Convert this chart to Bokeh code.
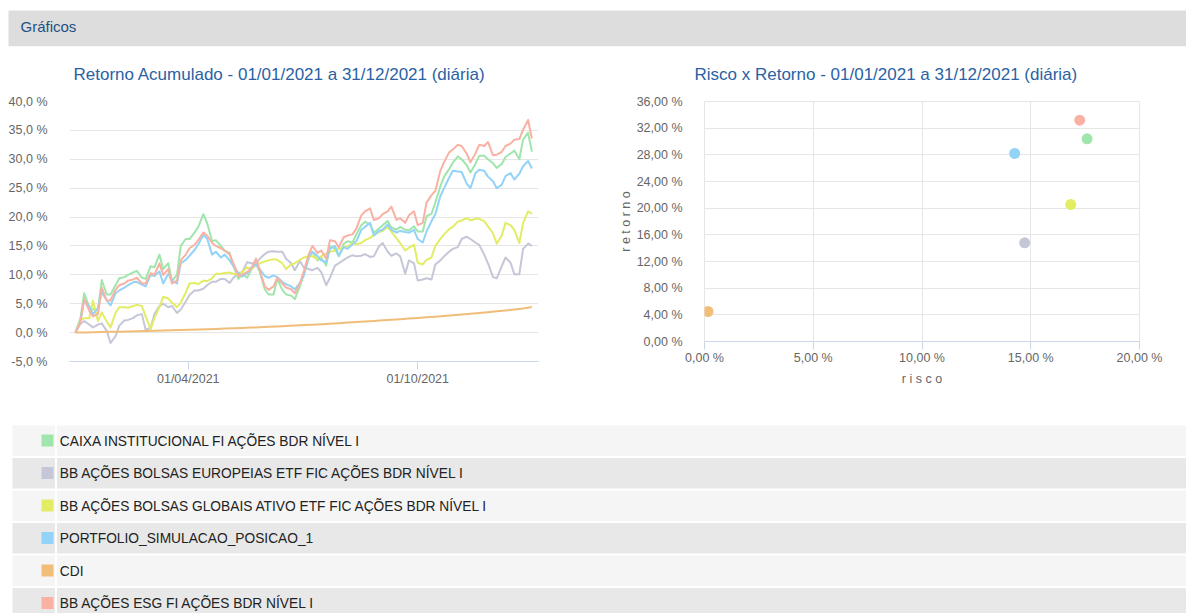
import pandas as pd
from bokeh.plotting import figure
from bokeh.layouts import column, row
from bokeh.models import Range1d, FixedTicker, CustomJSTickFormatter, ColumnDataSource
from bokeh.core.properties import value
from bokeh.embed import file_html
from bokeh.resources import INLINE

FONT = "Liberation Sans"

# ---------------- data ----------------
names = [
    "CAIXA INSTITUCIONAL FI AÇÕES BDR NÍVEL I",
    "BB AÇÕES BOLSAS EUROPEIAS ETF FIC AÇÕES BDR NÍVEL I",
    "BB AÇÕES BOLSAS GLOBAIS ATIVO ETF FIC AÇÕES BDR NÍVEL I",
    "PORTFOLIO_SIMULACAO_POSICAO_1",
    "CDI",
    "BB AÇÕES ESG FI AÇÕES BDR NÍVEL I",
]
colors = ["#a0e6ac", "#c5c7d8", "#e2ec64", "#93d3f8", "#f1be7a", "#f9b1a3"]

# sample dates (Fridays and Tuesdays of 2021)
fridays = [
    "2021-01-01", "2021-01-08", "2021-01-15", "2021-01-22", "2021-01-29",
    "2021-02-05", "2021-02-12", "2021-02-19", "2021-02-26",
    "2021-03-05", "2021-03-12", "2021-03-19", "2021-03-26",
    "2021-04-02", "2021-04-09", "2021-04-16", "2021-04-23", "2021-04-30",
    "2021-05-07", "2021-05-14", "2021-05-21", "2021-05-28",
    "2021-06-04", "2021-06-11", "2021-06-18", "2021-06-25",
    "2021-07-02", "2021-07-09", "2021-07-16", "2021-07-23", "2021-07-30",
    "2021-08-06", "2021-08-13", "2021-08-20", "2021-08-27",
    "2021-09-03", "2021-09-10", "2021-09-17", "2021-09-24",
    "2021-10-01", "2021-10-08", "2021-10-15", "2021-10-22", "2021-10-29",
    "2021-11-05", "2021-11-12", "2021-11-19", "2021-11-26",
    "2021-12-03", "2021-12-10", "2021-12-17", "2021-12-24", "2021-12-31",
]
tuesdays = [
    "2021-01-05", "2021-01-12", "2021-01-19", "2021-01-26",
    "2021-02-02", "2021-02-09", "2021-02-16", "2021-02-23",
    "2021-03-02", "2021-03-09", "2021-03-16", "2021-03-23", "2021-03-30",
    "2021-04-06", "2021-04-13", "2021-04-20", "2021-04-27",
    "2021-05-04", "2021-05-11", "2021-05-18", "2021-05-25",
    "2021-06-01", "2021-06-08", "2021-06-15", "2021-06-22", "2021-06-29",
    "2021-07-06", "2021-07-13", "2021-07-20", "2021-07-27",
    "2021-08-03", "2021-08-10", "2021-08-17", "2021-08-24", "2021-08-31",
    "2021-09-07", "2021-09-14", "2021-09-21", "2021-09-28",
    "2021-10-05", "2021-10-12", "2021-10-19", "2021-10-26",
    "2021-11-02", "2021-11-09", "2021-11-16", "2021-11-23", "2021-11-30",
    "2021-12-07", "2021-12-14", "2021-12-21", "2021-12-28",
]

caixa_fri = [0, 6.8, 4.0, 9.1, 6.6, 9.4, 10.0, 10.7, 9.3, 11.3,
             11.0, 9.0, 15.0, 16.2, 18.3, 19.0, 16.0, 14.2, 11.5, 10.2,
             10.8, 10.5, 6.6, 9.3, 6.6, 5.8, 10.0, 14.0, 13.0, 15.0,
             13.2, 15.8, 17.0, 19.2, 17.3, 18.6, 18.2, 18.3, 17.7, 17.5,
             20.1, 22.5, 27.0, 29.4, 30.0, 27.7, 30.6, 30.0, 28.5, 30.4,
             31.5, 33.4, 31.3]
caixa_tue = [2.5, 4.5, 4.0, 6.6, 8.2, 9.6, 10.4, 9.5, 11.5, 13.5,
             12.0, 10.0, 16.2, 17.3, 20.5, 15.8, 15.0, 13.8, 9.3, 9.5,
             12.0, 7.5, 6.6, 7.4, 6.4, 8.0, 12.8, 12.5, 11.6, 14.5,
             15.4, 15.6, 18.6, 18.7, 18.0, 19.3, 17.8, 17.8, 18.4, 17.5,
             20.6, 25.3, 28.3, 30.5, 29.0, 29.2, 30.6, 29.3, 29.2, 31.0,
             30.0, 34.6]

europeias_fri = [0, 2.0, 0.9, 1.6, -1.8, 1.2, 2.2, 3.0, 0.5, 3.2,
                 5.0, 4.6, 4.0, 6.5, 7.3, 8.2, 8.8, 9.3, 9.5, 10.5,
                 12.0, 12.8, 14.0, 14.0, 12.8, 10.8, 11.3, 10.8, 10.5, 9.5,
                 12.0, 13.0, 13.2, 13.6, 13.2, 15.5, 13.3, 13.2, 12.5, 9.0,
                 9.4, 11.8, 13.2, 14.5, 16.2, 16.2, 15.2, 12.0, 9.4, 13.0,
                 10.1, 14.5, 15.0]
europeias_tue = [1.5, 1.4, 1.4, 0.3, -0.6, 2.1, 2.5, 3.2, 0.8, 4.6,
                 4.4, 3.4, 5.4, 7.3, 7.6, 8.8, 9.3, 8.6, 10.3, 12.2,
                 12.0, 13.6, 14.1, 14.0, 12.0, 12.4, 11.0, 11.2, 8.2, 11.6,
                 12.6, 13.4, 13.3, 13.1, 14.9, 14.0, 13.7, 10.2, 12.0, 9.2,
                 9.2, 12.5, 14.0, 14.8, 16.6, 15.6, 13.5, 9.6, 11.5, 12.1,
                 10.1, 15.4]

globais_fri = [0, 2.5, 5.5, 3.5, 0.9, 4.4, 4.3, 4.8, 2.8, 2.5,
               6.2, 5.2, 5.2, 8.5, 8.4, 8.9, 10.2, 10.3, 10.2, 10.5,
               11.0, 12.0, 12.5, 12.6, 11.0, 12.0, 13.0, 13.2, 13.2, 14.0,
               14.5, 14.9, 15.3, 16.0, 16.9, 17.6, 17.5, 15.5, 14.7, 12.1,
               12.6, 15.0, 17.0, 18.3, 19.4, 19.4, 19.7, 18.4, 15.4, 19.0,
               17.8, 19.0, 20.6]
globais_tue = [2.2, 2.5, 2.0, 1.9, 3.4, 4.4, 4.6, 4.6, 0.6, 4.4,
               5.9, 4.4, 6.9, 8.6, 9.0, 9.4, 10.2, 10.4, 10.0, 11.3,
               11.6, 12.3, 12.7, 12.0, 11.8, 12.6, 13.2, 12.7, 13.7, 14.2,
               14.8, 15.5, 15.5, 16.4, 17.4, 18.3, 16.3, 14.2, 15.2, 11.8,
               13.0, 16.2, 17.9, 19.2, 19.8, 19.7, 19.3, 17.2, 16.8, 18.6,
               15.5, 21.0]

portfolio_fri = [0, 5.6, 3.2, 7.0, 4.7, 7.3, 8.2, 8.8, 8.0, 9.8,
                 8.5, 9.0, 12.0, 13.3, 15.3, 16.3, 14.0, 13.5, 11.5, 9.7,
                 11.2, 11.0, 9.5, 9.6, 8.4, 7.5, 9.8, 14.0, 12.5, 14.5,
                 13.3, 14.5, 15.8, 18.3, 16.8, 17.8, 17.8, 17.6, 17.3, 16.2,
                 17.5, 20.5, 25.0, 28.0, 27.8, 25.0, 28.2, 27.0, 25.0, 27.1,
                 26.5, 28.8, 28.4]
portfolio_tue = [2.0, 4.5, 4.2, 5.6, 6.8, 7.8, 8.7, 8.3, 10.0, 10.6,
                 10.2, 8.5, 12.6, 14.3, 16.9, 13.5, 13.0, 12.5, 10.3, 10.3,
                 11.8, 9.8, 9.9, 8.8, 8.0, 8.6, 13.2, 13.3, 12.2, 15.0,
                 14.8, 15.3, 17.8, 19.0, 17.6, 18.7, 17.3, 17.4, 17.8, 15.6,
                 19.3, 23.6, 26.8, 27.9, 25.8, 27.6, 28.0, 26.2, 25.6, 27.6,
                 27.5, 29.7]

esg_fri = [0, 5.8, 2.8, 7.8, 5.6, 8.2, 9.0, 9.5, 8.5, 10.0,
           10.0, 8.5, 12.5, 14.6, 16.0, 16.8, 15.0, 14.2, 12.0, 10.0,
           11.0, 10.8, 7.4, 9.5, 7.8, 6.8, 10.5, 15.0, 14.2, 16.0,
           14.8, 16.8, 18.0, 21.0, 19.5, 20.5, 21.8, 19.8, 20.3, 18.6,
           22.5, 24.5, 29.5, 31.7, 32.3, 29.5, 32.5, 33.0, 30.8, 32.3,
           33.4, 35.1, 33.6]
esg_tue = [1.8, 3.8, 3.2, 5.5, 7.4, 8.5, 9.2, 8.5, 10.3, 12.0,
           11.0, 9.0, 13.5, 15.2, 17.3, 15.5, 14.6, 13.5, 9.8, 10.5,
           12.8, 8.0, 8.0, 8.5, 7.5, 8.5, 13.5, 13.8, 12.8, 15.8,
           16.5, 17.0, 20.3, 21.5, 19.8, 21.0, 19.5, 19.0, 21.0, 19.0,
           23.8, 28.0, 31.2, 32.5, 31.0, 31.0, 32.3, 30.7, 31.3, 32.7,
           33.5, 36.8]

# CDI read on Fridays only (smooth curve)
cdi_fri = [0, 0.03, 0.07, 0.10, 0.14, 0.17, 0.20, 0.23, 0.27, 0.31,
           0.35, 0.40, 0.45, 0.49, 0.54, 0.59, 0.64, 0.69, 0.75, 0.81,
           0.87, 0.93, 1.00, 1.07, 1.14, 1.22, 1.30, 1.38, 1.46, 1.55,
           1.64, 1.73, 1.83, 1.93, 2.03, 2.13, 2.23, 2.33, 2.43, 2.54,
           2.65, 2.76, 2.87, 2.99, 3.12, 3.25, 3.39, 3.53, 3.68, 3.84,
           4.00, 4.17, 4.45]

series = [
    (caixa_fri, caixa_tue),
    (europeias_fri, europeias_tue),
    (globais_fri, globais_tue),
    (portfolio_fri, portfolio_tue),
    (cdi_fri, None),
    (esg_fri, esg_tue),
]

# risk x return (%, same order as names)
risco = [17.59, 14.72, 16.84, 14.26, 0.16, 17.25]
retorno = [30.4, 14.8, 20.55, 28.2, 4.5, 33.2]

x_tick_dates = ["2021-04-01", "2021-10-01"]
ret_ticks = [-5, 0, 5, 10, 15, 20, 25, 30, 35, 40]
risk_x_ticks = [0, 5, 10, 15, 20]
risk_y_ticks = [0, 4, 8, 12, 16, 20, 24, 28, 32, 36]

header_text = "Gráficos"
title_left = "Retorno Acumulado - 01/01/2021 a 31/12/2021 (diária)"
title_right = "Risco x Retorno - 01/01/2021 a 31/12/2021 (diária)"

# ---------------- styling helpers ----------------
W = 1186
TICK_COLOR = "#666666"
AXIS_BLUE = "#ccd6eb"
GRID = "#e6e6e6"
TITLE_BLUE = "#2a62a4"


def blank(width, height):
    f = figure(width=width, height=height, x_range=Range1d(0, width), y_range=Range1d(height, 0),
               x_axis_location=None, y_axis_location=None, output_backend="svg",
               toolbar_location=None, min_border=0)
    f.grid.visible = False
    f.outline_line_color = None
    return f


# ---------------- header ----------------
hdr = blank(W, 90)
hdr.quad(left=[8], right=[W], top=[10], bottom=[45.7], fill_color="#dddddd", line_color=None)
hdr.text(x=[20], y=[26.3], text=[header_text], text_font=value(FONT), text_font_size="15px",
         text_color="#1f5185", text_baseline="middle", text_align="left")
hdr.text(x=[73, 694], y=[73.8, 73.8], text=[title_left, title_right], text_font=value(FONT),
         text_font_size="17px", text_color=TITLE_BLUE, text_baseline="middle", text_align="left")

# ---------------- left chart: cumulative return ----------------
p1 = figure(frame_width=469, frame_height=260, x_axis_type="datetime",
            x_range=Range1d(pd.Timestamp("2020-12-27 07:00"), pd.Timestamp("2022-01-05 07:00")),
            y_range=Range1d(-5, 40), output_backend="svg", toolbar_location=None,
            min_border_left=69, min_border_right=60, min_border_top=11, min_border_bottom=47)
p1.outline_line_color = None
for (fri_vals, tue_vals), col in zip(series, colors):
    df = pd.DataFrame({"d": pd.to_datetime(fridays), "v": fri_vals})
    if tue_vals is not None:
        df = pd.concat([df, pd.DataFrame({"d": pd.to_datetime(tuesdays), "v": tue_vals})])
    df = df.sort_values("d")
    p1.line(x=df["d"], y=df["v"], line_color=col, line_width=2, line_join="round")

yt = FixedTicker(ticks=ret_ticks)
p1.yaxis.ticker = yt
p1.ygrid.ticker = yt
p1.yaxis.formatter = CustomJSTickFormatter(code="return tick.toFixed(1).replace('.', ',') + ' %';")
p1.yaxis.axis_line_color = None
p1.yaxis.major_tick_line_color = None
p1.yaxis.minor_tick_line_color = None
p1.yaxis.major_label_standoff = 16
p1.ygrid.grid_line_color = GRID
p1.xgrid.grid_line_color = None

xt = FixedTicker(ticks=[pd.Timestamp(d).value // 10**6 for d in x_tick_dates])
p1.xaxis.ticker = xt
p1.xaxis.formatter = CustomJSTickFormatter(code="""
const d = new Date(tick);
const dd = String(d.getUTCDate()).padStart(2, '0');
const mm = String(d.getUTCMonth() + 1).padStart(2, '0');
return dd + '/' + mm + '/' + d.getUTCFullYear();
""")
p1.xaxis.axis_line_color = AXIS_BLUE
p1.xaxis.major_tick_line_color = AXIS_BLUE
p1.xaxis.minor_tick_line_color = None
p1.xaxis.major_tick_out = 8
p1.xaxis.major_tick_in = 0
p1.xaxis.major_label_standoff = 2

# ---------------- right chart: risk x return ----------------
p2 = figure(frame_width=435, frame_height=240, x_range=Range1d(0, 20), y_range=Range1d(0, 36),
            output_backend="svg", toolbar_location=None,
            min_border_left=106, min_border_right=47, min_border_top=11, min_border_bottom=47)
p2.outline_line_color = GRID
src = ColumnDataSource(dict(x=risco, y=retorno, c=colors, n=names))
p2.scatter(x="x", y="y", source=src, size=11, fill_color="c", line_color=None, marker="circle")

rx = FixedTicker(ticks=risk_x_ticks)
ry = FixedTicker(ticks=risk_y_ticks)
p2.xaxis.ticker = rx
p2.xgrid.ticker = rx
p2.yaxis.ticker = ry
p2.ygrid.ticker = ry
pct2 = CustomJSTickFormatter(code="return tick.toFixed(2).replace('.', ',') + ' %';")
p2.xaxis.formatter = pct2
p2.yaxis.formatter = pct2
p2.xgrid.grid_line_color = GRID
p2.ygrid.grid_line_color = GRID
p2.yaxis.axis_line_color = None
p2.yaxis.major_tick_line_color = None
p2.yaxis.minor_tick_line_color = None
p2.yaxis.major_label_standoff = 16
p2.xaxis.axis_line_color = AXIS_BLUE
p2.xaxis.major_tick_line_color = AXIS_BLUE
p2.xaxis.minor_tick_line_color = None
p2.xaxis.major_tick_out = 8
p2.xaxis.major_tick_in = 0
p2.xaxis.major_label_standoff = 1
p2.xaxis.axis_label = "r i s c o"
p2.yaxis.axis_label = "r e t o r n o"
p2.xaxis.axis_label_standoff = 4
p2.yaxis.axis_label_standoff = 1

for ax in list(p1.axis) + list(p2.axis):
    ax.major_label_text_font = FONT
    ax.major_label_text_font_size = "12.5px"
    ax.major_label_text_color = TICK_COLOR
    ax.axis_label_text_font = FONT
    ax.axis_label_text_font_size = "12.5px"
    ax.axis_label_text_font_style = "normal"
    ax.axis_label_text_color = TICK_COLOR

# ---------------- legend table ----------------
LEG_H = 613 - 90 - 318
leg = blank(W, LEG_H)
n = len(names)
tops = [17 + 32.5 * i for i in range(n)]
bots = [t + 30.5 for t in tops]
mids = [t + 15 for t in tops]
fills = ["#f5f5f5" if i % 2 == 0 else "#e8e8e8" for i in range(n)]
leg.quad(left=[12] * n, right=[54.5] * n, top=tops, bottom=bots, fill_color=fills, line_color=None)
leg.quad(left=[56.5] * n, right=[W] * n, top=tops, bottom=bots, fill_color=fills, line_color=None)
leg.quad(left=[41] * n, right=[53] * n, top=[m - 6 for m in mids], bottom=[m + 6 for m in mids],
         fill_color=colors, line_color=None)
leg.text(x=[59.3] * n, y=[m + 0.5 for m in mids], text=names, text_font=value(FONT),
         text_font_size="13.75px", text_color="#222222", text_baseline="middle", text_align="left")

layout = column(hdr, row(p1, p2), leg)
open("out.html", "w").write(file_html(layout, INLINE))
